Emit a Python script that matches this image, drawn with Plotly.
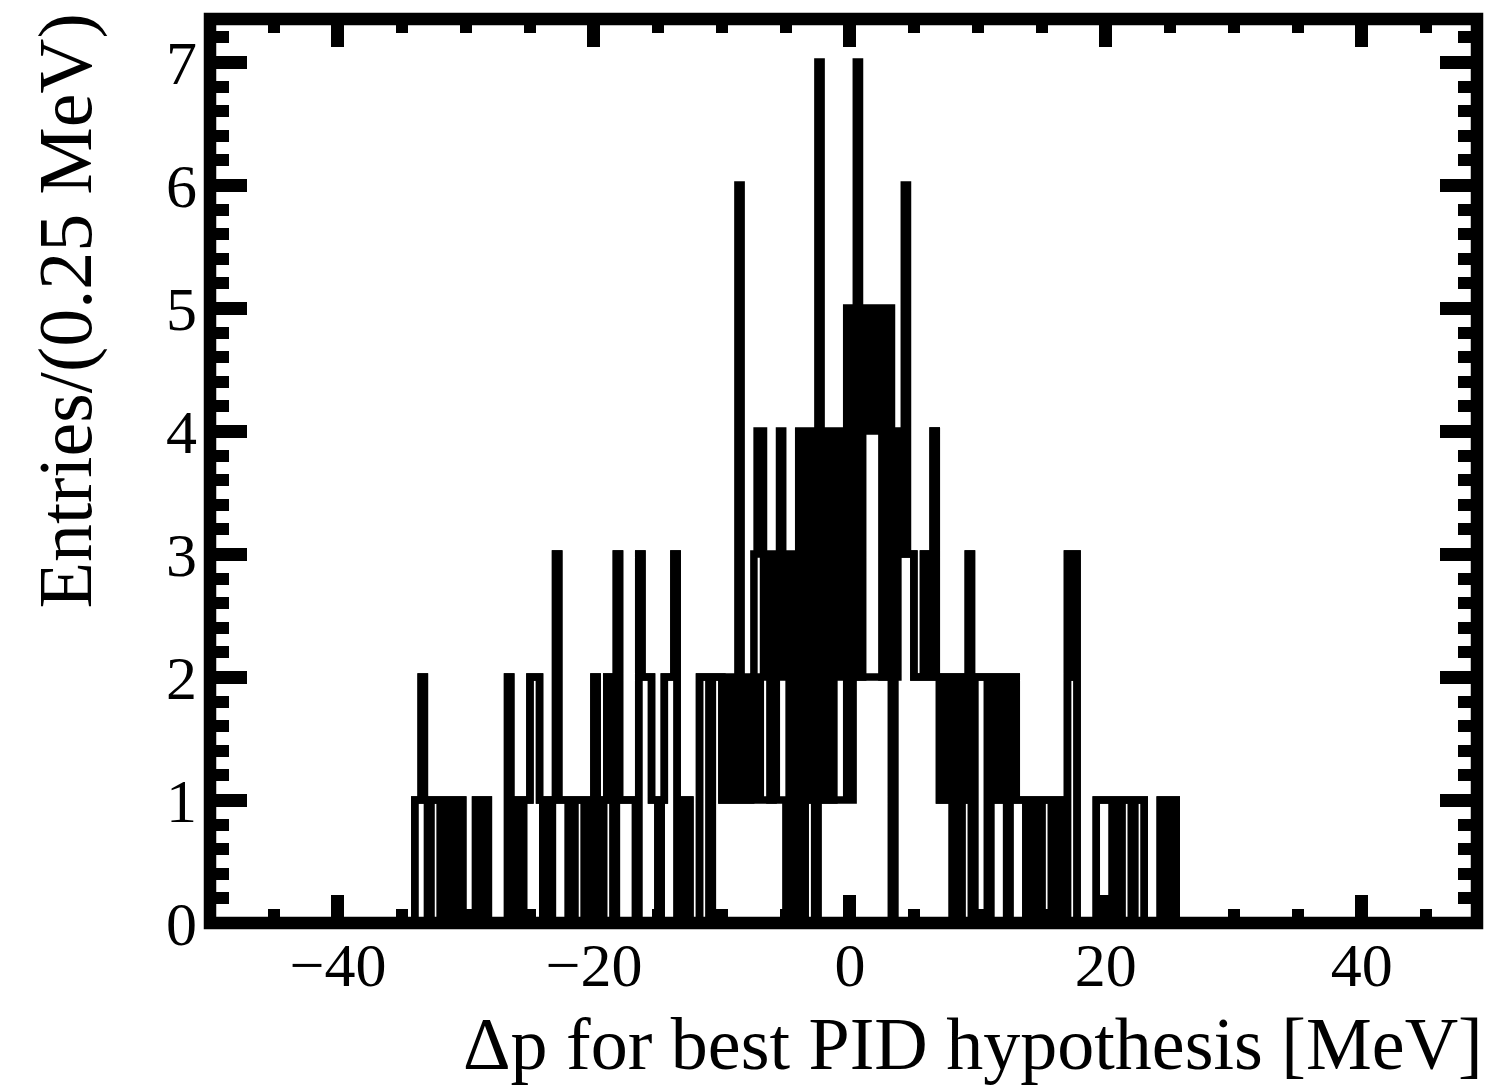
import numpy as np
import plotly.graph_objects as go

# ---------------- data ----------------
BIN_WIDTH = 0.25          # MeV
X_LOW, X_HIGH = -50.0, 50.0

# outer (total) histogram: lower bin edge [MeV] -> entries (bins not listed are empty)
main_edges = [
    -34.0, -33.75, -33.5, -33.25, -33.0, -32.75, -32.5, -32.25, -32.0, -31.75, -31.5, -31.25, -31.0, -30.75, -30.5,
    -29.25, -29.0, -28.75, -28.5,
    -26.75, -26.5, -26.25, -26.0, -25.75, -25.5, -25.25, -25.0, -24.75, -24.5, -24.25, -24.0, -23.75, -23.5, -23.25,
    -23.0, -22.75, -22.5, -22.25, -22.0, -21.75, -21.5, -21.25, -21.0, -20.75, -20.5, -20.25, -20.0, -19.75, -19.5,
    -19.25, -19.0, -18.75, -18.5, -18.25, -18.0, -17.75, -17.5, -17.25, -17.0, -16.75, -16.5, -16.25, -16.0, -15.75,
    -15.5, -15.25, -15.0, -14.75, -14.5, -14.25, -14.0, -13.75, -13.5, -13.25, -13.0, -12.75,
    -11.75, -11.5, -11.25, -11.0, -10.75, -10.5, -10.25,
    -10.0, -9.75, -9.5, -9.25, -9.0, -8.75, -8.5, -8.25, -8.0, -7.75, -7.5, -7.25, -7.0, -6.75, -6.5, -6.25, -6.0,
    -5.75, -5.5, -5.25, -5.0, -4.75, -4.5, -4.25, -4.0, -3.75, -3.5, -3.25, -3.0, -2.75, -2.5, -2.25, -2.0, -1.75,
    -1.5, -1.25, -1.0, -0.75, -0.5, -0.25, 0.0, 0.25, 0.5, 0.75, 1.0, 1.25, 1.5, 1.75, 2.0, 2.25, 2.5, 2.75, 3.0,
    3.25, 3.5, 3.75, 4.0, 4.25, 4.5, 4.75, 5.0, 5.25, 5.5, 5.75, 6.0, 6.25, 6.5, 6.75, 7.0, 7.25, 7.5, 7.75, 8.0,
    8.25, 8.5, 8.75, 9.0, 9.25, 9.5, 9.75, 10.0, 10.25, 10.5, 10.75, 11.0, 11.25, 11.5, 11.75, 12.0, 12.25, 12.5,
    12.75, 13.0, 13.25, 13.5, 13.75, 14.0, 14.25, 14.5, 14.75, 15.0, 15.25, 15.5, 15.75, 16.0, 16.25, 16.5, 16.75,
    17.0, 17.25, 17.5,
    19.25, 19.5, 19.75, 20.0, 20.25, 20.5, 20.75, 21.0, 21.25, 21.5, 21.75, 22.0, 22.25, 22.5, 22.75,
    24.25, 24.5, 24.75, 25.0, 25.25,
]
main_counts = [
    1, 1, 2, 1, 0, 1, 1, 1, 0, 1, 0, 1, 0, 1, 1,
    1, 0, 1, 1,
    2, 1, 0, 1, 0, 1, 1, 2, 2, 2, 1, 0, 1, 0, 1,
    3, 1, 1, 1, 0, 0, 1, 1, 1, 0, 1, 0, 2, 1, 0,
    1, 2, 1, 0, 3, 1, 1, 1, 1, 1, 0, 3, 2, 2, 2,
    1, 1, 0, 1, 2, 2, 2, 3, 0, 1, 0, 1,
    2, 2, 2, 0, 2, 2, 2,
    1, 2, 1, 2, 1, 6, 1, 2, 1, 2, 3, 4, 4, 2, 3, 1, 3,
    2, 4, 2, 3, 1, 3, 1, 4, 0, 4, 1, 4, 0, 7, 4, 1, 4,
    1, 4, 2, 4, 2, 5, 2, 4, 7, 2, 4, 5, 4, 5, 4, 5, 2, 5, 5,
    0, 4, 3, 3, 6, 3, 3, 2, 2, 2, 3, 3, 2, 4, 2, 1, 2, 1, 2, 0,
    2, 0, 2, 1, 3, 0, 2, 2, 2, 2, 0, 2, 2, 1, 2, 1, 0, 2,
    2, 1, 1, 1, 0, 1, 0, 1, 0, 1, 1, 1, 0, 1, 0, 1, 0,
    3, 2, 3,
    1, 1, 1, 1, 1, 0, 1, 0, 1, 1, 1, 0, 1, 1, 1,
    1, 0, 1, 0, 1,
]

# inner (lower component) histogram: bins where it differs from the outer one
inner_edges = [
    -10.0, -9.75, -9.5, -9.25, -9.0, -8.75, -8.5, -8.25, -8.0, -7.75, -7.5, -7.25, -7.0, -6.75, -6.5, -6.25, -6.0,
    -5.75, -5.5, -5.25, -5.0, -4.75, -4.5, -4.25, -4.0, -3.5, -3.25, -3.0, -2.5, -2.25, -2.0, -1.75, -1.5, -1.25,
    -1.0, -0.75, -0.5, -0.25, 0.0, 0.25, 0.5, 0.75, 1.0, 1.25, 1.5, 1.75, 2.0, 2.25, 2.5, 2.75, 3.0, 3.25, 3.5,
    3.75, 4.0, 4.25,
]
inner_counts = [
    1, 1, 1, 1, 1, 1, 1, 1, 1, 1, 2, 2, 1, 1, 1, 1, 2,
    1, 1, 1, 0, 1, 0, 1, 1, 1, 1, 1, 1, 1, 1, 1, 1, 1,
    1, 1, 1, 2, 1, 2, 2, 2, 2, 2, 2, 2, 2, 2, 2, 2, 2, 0, 2,
    3, 3, 3,
]

x_tick_step, x_minor_step = 20, 5
y_tick_step, y_minor_step = 1, 0.2
x_title = "Δp for best PID hypothesis [MeV]"
y_title = "Entries/(0.25 MeV)"

# ---------------- build histograms ----------------
n_bins = int(round((X_HIGH - X_LOW) / BIN_WIDTH))
edges = X_LOW + BIN_WIDTH * np.arange(n_bins + 1)

def fill(base, e_list, c_list):
    h = base.copy()
    for e, c in zip(e_list, c_list):
        h[int(round((e - X_LOW) / BIN_WIDTH))] = c
    return h

h_main = fill(np.zeros(n_bins), main_edges, main_counts)
h_inner = fill(h_main, inner_edges, inner_counts)

fig = go.Figure()
for h in (h_inner, h_main):
    fig.add_trace(go.Scatter(
        x=edges, y=np.append(h, h[-1]), mode="lines", line_shape="hv",
        line=dict(color="black", width=7.5), hoverinfo="skip", showlegend=False,
    ))

W, H = 1496, 1090
ML, MR, MT, MB = 210, 19, 19, 167
font = "Liberation Serif, Times New Roman, serif"

fig.update_layout(
    width=W, height=H, margin=dict(l=ML, r=MR, t=MT, b=MB),
    paper_bgcolor="white", plot_bgcolor="white", showlegend=False,
    font=dict(family=font, color="black", size=62),
)
fig.update_xaxes(
    range=[-50, 49], showgrid=False, zeroline=False, showline=False,
    ticks="inside", ticklen=28, tickwidth=13, tickcolor="black", mirror="allticks",
    tick0=0, dtick=x_tick_step, tickfont=dict(family=font, size=62, color="black"),
    minor=dict(ticks="inside", ticklen=14, tickwidth=12, tickcolor="black", dtick=x_minor_step, tick0=0, showgrid=False),
)
fig.update_yaxes(
    range=[0, 7.35], showgrid=False, zeroline=False, showline=False,
    ticks="inside", ticklen=37, tickwidth=13, tickcolor="black", mirror="allticks",
    tick0=0, dtick=y_tick_step, tickfont=dict(family=font, size=62, color="black"),
    ticklabelstandoff=12,
    minor=dict(ticks="inside", ticklen=19, tickwidth=12, tickcolor="black", dtick=y_minor_step, tick0=0, showgrid=False),
)

# frame
fig.add_shape(type="rect", xref="paper", yref="paper", x0=0, x1=1, y0=0, y1=1,
              line=dict(color="black", width=12.5), layer="above")

pw, ph = W - ML - MR, H - MT - MB
def px2paper_x(px): return (px - ML) / pw
def px2paper_y(py): return (H - MB - py) / ph

fig.add_annotation(text=x_title, xref="paper", yref="paper",
                   x=px2paper_x(1485), y=px2paper_y(1044), xanchor="right", yanchor="middle",
                   showarrow=False, font=dict(family=font, size=74, color="black"))
fig.add_annotation(text=y_title, xref="paper", yref="paper", textangle=-90,
                   x=px2paper_x(65), y=px2paper_y(12), xanchor="center", yanchor="top",
                   showarrow=False, font=dict(family=font, size=76, color="black"))

fig.write_html("out.html")
